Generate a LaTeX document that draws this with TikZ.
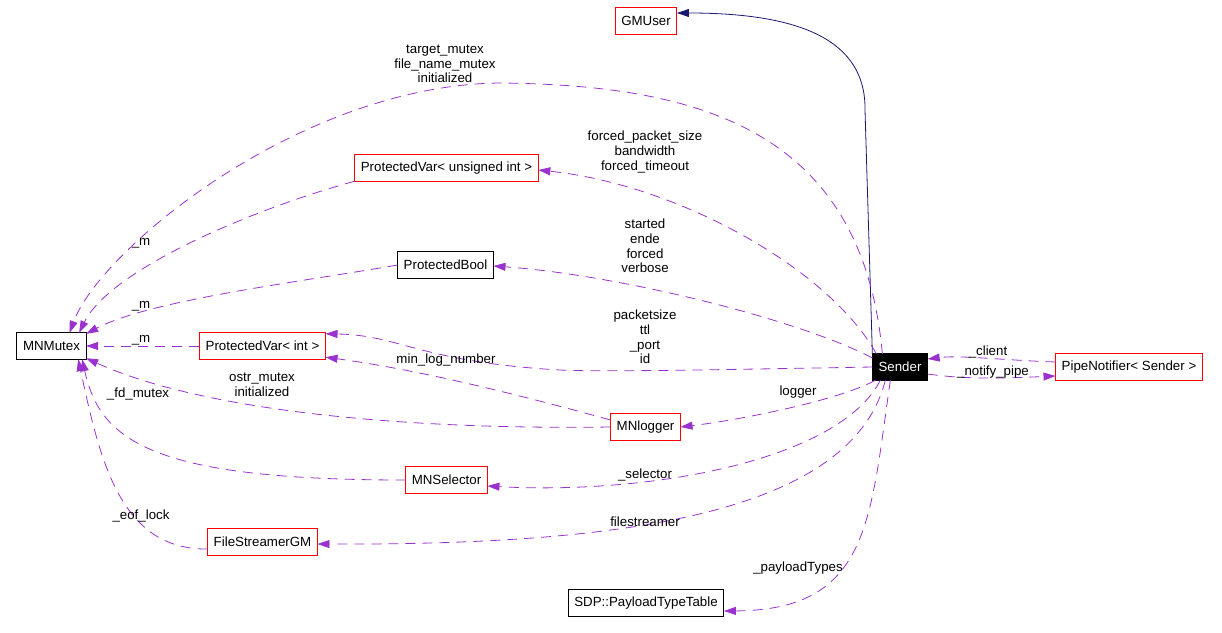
\documentclass[tikz,border=0pt]{standalone}
\usepackage{fontspec}
\setmainfont{Liberation Sans}
\usetikzlibrary{arrows.meta,calc}
\definecolor{edgepurple}{HTML}{9A32CD}
\definecolor{edgenavy}{HTML}{191970}
\definecolor{boxred}{HTML}{FF0000}
\begin{document}
\begin{tikzpicture}[x=1pt,y=-1pt,
  every node/.style={font=\fontsize{13.3}{14.7}\selectfont},
  cls/.style={inner xsep=6pt,inner ysep=0pt,minimum height=26pt,text=black},
  curcls/.style={cls,fill=black,text=white},
  redframe/.style={draw=boxred,line width=1pt},
  blackframe/.style={draw=black,line width=1pt},
  uses/.style={draw=edgepurple,line width=0.8pt,dash pattern=on 10pt off 7pt,
    -{Triangle[length=12pt,width=8pt,fill=edgepurple]}},
  inherit/.style={draw=edgenavy,line width=0.8pt,-{Triangle[length=12pt,width=8pt,fill=edgenavy]}},
  lbl/.style={align=center,inner sep=0pt,text=black}]
\useasboundingbox (0,0) rectangle (1222,632);

% nodes
\node[cls] (GMUser) at (646,21) {GMUser};
\node[cls] (MNMutex) at (51.5,346) {MNMutex};
\node[cls] (PVu) at (446.5,168) {ProtectedVar< unsigned int >};
\node[cls] (PBool) at (445.5,265) {ProtectedBool};
\node[cls] (PVi) at (262.5,346) {ProtectedVar< int >};
\node[curcls] (Sender) at (900,367) {Sender};
\node[cls] (Pipe) at (1129,367) {PipeNotifier< Sender >};
\node[cls] (Logger) at (645.5,427) {MNlogger};
\node[cls] (Selector) at (446.5,480) {MNSelector};
\node[cls] (FS) at (262.5,542) {FileStreamerGM};
\node[cls] (SDP) at (646,603) {SDP::PayloadTypeTable};

% frames
\foreach \n in {GMUser,PVu,PVi,Pipe,Logger,Selector,FS}
  \draw[redframe] (\n.south west) rectangle (\n.north east);
\foreach \n in {MNMutex,PBool,SDP,Sender}
  \draw[blackframe] (\n.south west) rectangle (\n.north east);

% inheritance
\draw[inherit] (Sender.north west) -- (865,110) .. controls (866,40) and (800,13) .. ($(GMUser.east)+(0,-8)$);

% usage edges
\draw[uses] ($(Sender.north west)+(10,0)$) .. controls (862,130) and (700,85) .. (500,83)
  .. controls (300,85) and (100,250) .. ($(MNMutex.north)+(18,0)$);
\draw[uses] (PVu.south west) .. controls (250,210) and (110,270) .. ($(MNMutex.north east)+(-7,0)$);
\draw[uses] ($(Sender.north west)+(4,0)$) .. controls (830,270) and (680,185) .. ($(PVu.east)+(0,2)$);
\draw[uses] (PBool.west) .. controls (300,282) and (150,300) .. ($(MNMutex.north east)+(0,1)$);
\draw[uses] ($(Sender.west)+(0,-9)$) .. controls (800,320) and (620,275) .. ($(PBool.east)+(0,1)$);
\draw[uses] (PVi.west) -- (MNMutex.east);
\draw[uses] (Sender.west) .. controls (700,370) and (600,372) .. (560,370)
  .. controls (420,362) and (400,335) .. ($(PVi.north east)+(0,1)$);
\draw[uses] ($(Logger.west)+(0,-7)$) .. controls (520,395) and (420,370) .. ($(PVi.south east)+(0,-2)$);
\draw[uses] (Logger.west) .. controls (400,430) and (200,410) .. ($(MNMutex.south east)+(0,-1)$);
\draw[uses] ($(Sender.south west)+(3,0)$) .. controls (840,400) and (740,420) .. (Logger.east);
\draw[uses] (Selector.west) .. controls (150,480) and (100,440) .. ($(MNMutex.south east)+(-4,0)$);
\draw[uses] ($(Sender.south west)+(8,0)$) .. controls (840,460) and (650,495) .. ($(Selector.east)+(0,6)$);
\draw[uses] ($(FS.west)+(0,7)$) .. controls (120,550) and (100,460) .. ($(MNMutex.south east)+(-8,0)$);
\draw[uses] ($(Sender.south west)+(13,0)$) .. controls (850,520) and (600,545) .. ($(FS.east)+(0,2)$);
\draw[uses] ($(Sender.south west)+(18,0)$) .. controls (870,520) and (870,610) .. ($(SDP.east)+(0,8)$);
\draw[uses] ($(Pipe.west)+(0,-5)$) .. controls (1000,360) and (960,355) .. ($(Sender.east)+(0,-8)$);
\draw[uses] ($(Sender.east)+(0,7)$) .. controls (970,380) and (1010,378) .. ($(Pipe.west)+(0,9)$);

% labels
\node[lbl] (l1) at (445,64) {target\_mutex\\file\_name\_mutex\\initialized};
\node[lbl] (l2) at (141,243) {\_m};
\node[lbl] (l3) at (645,152) {forced\_packet\_size\\bandwidth\\forced\_timeout};
\node[lbl] (l4) at (645,246) {started\\ende\\forced\\verbose};
\node[lbl] (l5) at (141,306) {\_m};
\node[lbl] (l6) at (645,337) {packetsize\\ttl\\\_port\\id};
\node[lbl] (l7) at (141,340) {\_m};
\node[lbl] (l8) at (446,360) {min\_log\_number};
\node[lbl] (l9) at (262,385) {ostr\_mutex\\initialized};
\node[lbl] (l10) at (138,394) {\_fd\_mutex};
\node[lbl] (l11) at (798,392) {logger};
\node[lbl] (l12) at (645,475) {\_selector};
\node[lbl] (l13) at (141,516) {\_eof\_lock};
\node[lbl] (l14) at (645,522) {filestreamer};
\node[lbl] (l15) at (798,568) {\_payloadTypes};
\node[lbl] (l16) at (988,352) {\_client};
\node[lbl] (l17) at (993,372) {\_notify\_pipe};
\end{tikzpicture}
\end{document}
